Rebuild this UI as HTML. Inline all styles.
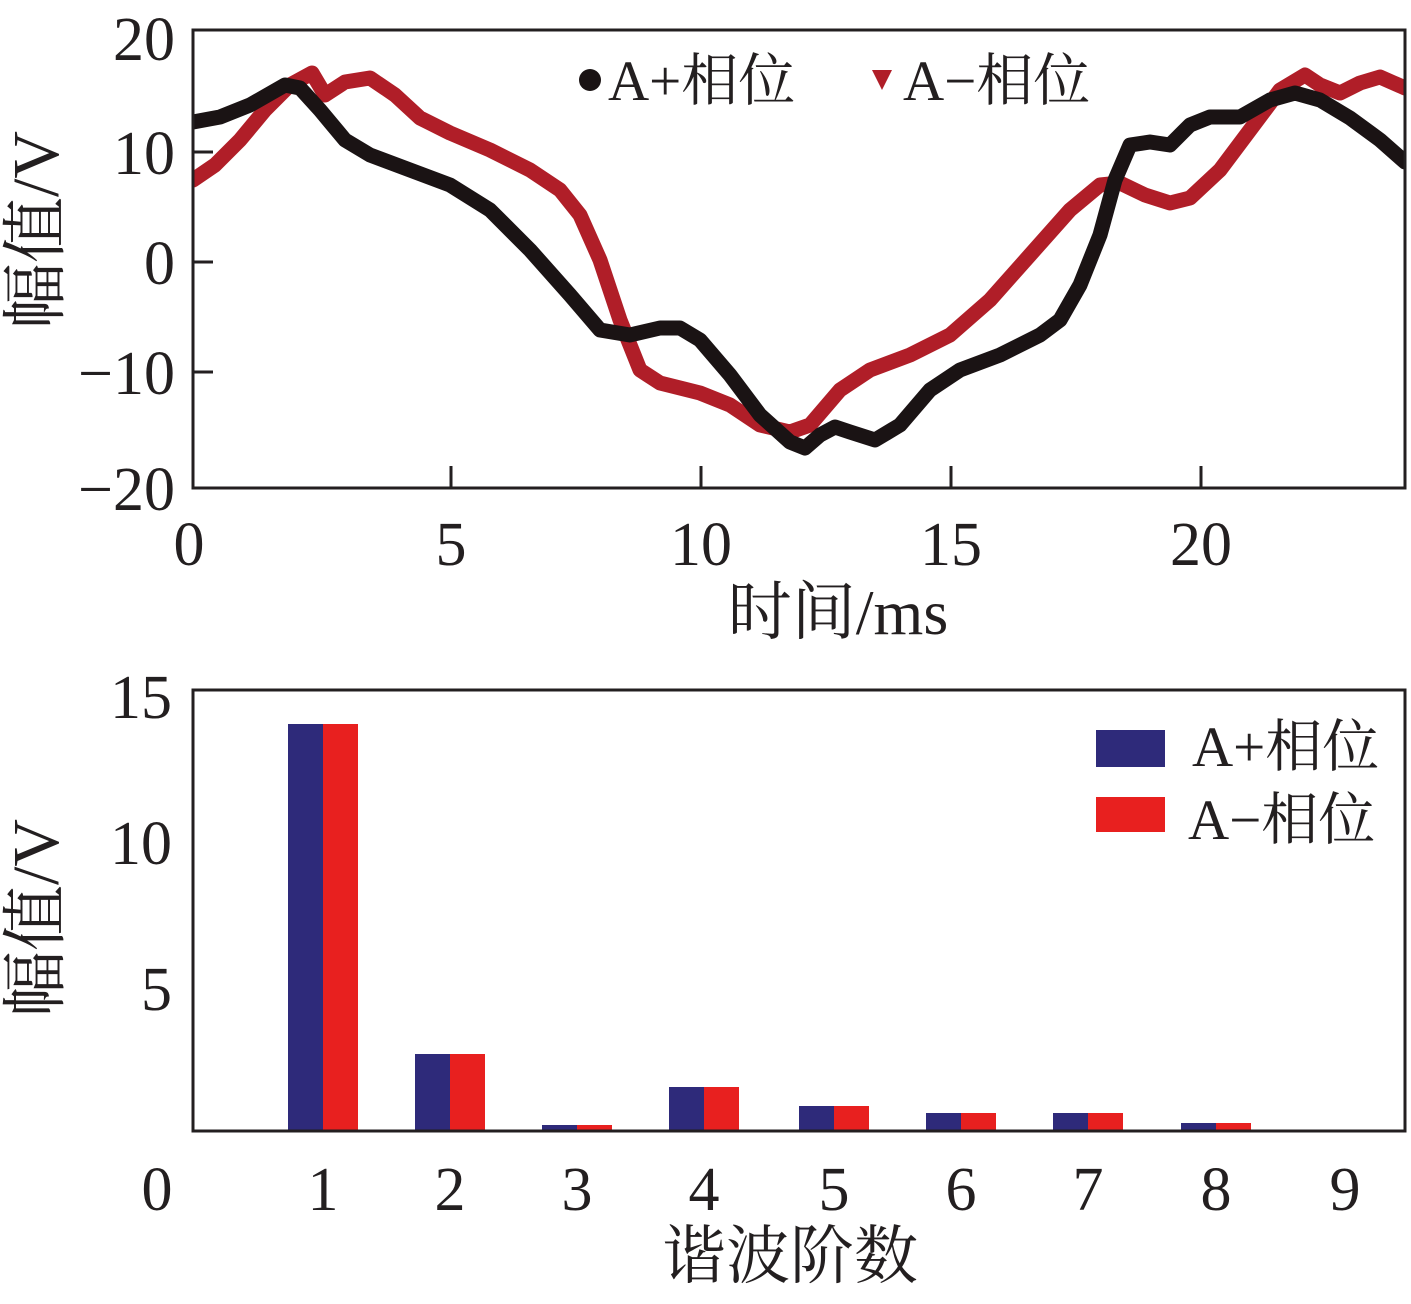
<!DOCTYPE html>
<html><head><meta charset="utf-8"><style>
html,body{margin:0;padding:0;background:#fff;}
svg text{font-family:"Liberation Serif","Noto Serif CJK SC","Noto Sans CJK SC",serif;fill:#231f20;}
</style></head><body>
<svg width="1411" height="1299" viewBox="0 0 1411 1299" xmlns="http://www.w3.org/2000/svg">
<defs><clipPath id="c1"><rect x="193" y="30" width="1212" height="458"/></clipPath></defs>
<g clip-path="url(#c1)" fill="none" stroke-linejoin="round" stroke-linecap="round" stroke-width="15">
<polyline stroke="#b01e28" points="193,180 215,165 240,140 265,110 290,85 312,73 325,95 345,82 370,78 395,95 420,118 450,133 490,150 530,170 560,190 580,215 600,260 620,320 640,370 660,383 700,393 730,405 760,425 790,432 810,425 840,390 870,370 910,355 950,335 990,300 1030,255 1070,210 1100,185 1120,183 1145,195 1170,203 1190,198 1220,170 1250,130 1280,90 1305,75 1320,85 1340,93 1360,83 1380,77 1405,88"/>
<polyline stroke="#1a1314" points="193,122 220,117 250,105 285,85 300,88 320,110 345,140 370,155 410,170 450,185 490,210 530,250 570,295 600,330 630,335 660,328 680,328 700,340 730,375 760,415 790,442 805,448 820,435 835,427 850,432 875,440 900,425 930,390 960,370 1000,355 1040,335 1060,320 1080,285 1100,235 1115,180 1130,145 1150,142 1170,145 1190,125 1210,117 1240,117 1270,100 1295,93 1320,100 1350,118 1380,140 1405,162"/>
</g>
<rect x="193" y="30" width="1212" height="458" fill="none" stroke="#231f20" stroke-width="3"/>
<g stroke="#231f20" stroke-width="3">
<line x1="193" y1="152" x2="213" y2="152"/><line x1="193" y1="262" x2="213" y2="262"/><line x1="193" y1="372" x2="213" y2="372"/>
<line x1="451" y1="488" x2="451" y2="466"/><line x1="701" y1="488" x2="701" y2="466"/><line x1="951" y1="488" x2="951" y2="466"/><line x1="1201" y1="488" x2="1201" y2="466"/>
</g>
<g font-size="62" text-anchor="end">
<text x="175" y="60">20</text><text x="175" y="174">10</text><text x="175" y="284">0</text><text x="175" y="394">−10</text><text x="175" y="510">−20</text>
</g>
<g font-size="62" text-anchor="middle">
<text x="189" y="565">0</text><text x="451" y="565">5</text><text x="701" y="565">10</text><text x="951" y="565">15</text><text x="1201" y="565">20</text>
<text x="838" y="634" font-size="64">时间/ms</text>
</g>
<text font-size="66" text-anchor="middle" transform="translate(58,230) rotate(-90)">幅值/V</text>
<circle cx="590" cy="80" r="11" fill="#1a1314"/>
<text x="608" y="100" font-size="57">A+相位</text>
<polygon points="872,70 892,70 882,90" fill="#b01e28"/>
<text x="903" y="100" font-size="57">A−相位</text>

<g fill="#2e2a7a">
<rect x="288" y="724" width="35" height="407"/><rect x="415" y="1054" width="35" height="77"/><rect x="542" y="1125" width="35" height="6"/><rect x="669" y="1087" width="35" height="44"/><rect x="799" y="1106" width="35" height="25"/><rect x="926" y="1113" width="35" height="18"/><rect x="1053" y="1113" width="35" height="18"/><rect x="1181" y="1123" width="35" height="8"/>
</g>
<g fill="#e8201f">
<rect x="323" y="724" width="35" height="407"/><rect x="450" y="1054" width="35" height="77"/><rect x="577" y="1125" width="35" height="6"/><rect x="704" y="1087" width="35" height="44"/><rect x="834" y="1106" width="35" height="25"/><rect x="961" y="1113" width="35" height="18"/><rect x="1088" y="1113" width="35" height="18"/><rect x="1216" y="1123" width="35" height="8"/>
</g>
<rect x="193" y="690" width="1212" height="441" fill="none" stroke="#231f20" stroke-width="3"/>
<g font-size="62" text-anchor="end">
<text x="172" y="718">15</text><text x="172" y="864">10</text><text x="172" y="1010">5</text>
</g>
<g font-size="62" text-anchor="middle">
<text x="157" y="1210">0</text><text x="323" y="1210">1</text><text x="450" y="1210">2</text><text x="577" y="1210">3</text><text x="704" y="1210">4</text><text x="834" y="1210">5</text><text x="961" y="1210">6</text><text x="1088" y="1210">7</text><text x="1216" y="1210">8</text><text x="1345" y="1210">9</text>
<text x="790" y="1278" font-size="64">谐波阶数</text>
</g>
<text font-size="66" text-anchor="middle" transform="translate(58,918) rotate(-90)">幅值/V</text>
<rect x="1096" y="730" width="69" height="37" fill="#2e2a7a"/>
<text x="1192" y="766" font-size="57">A+相位</text>
<rect x="1096" y="797" width="69" height="35" fill="#e8201f"/>
<text x="1188" y="839" font-size="57">A−相位</text>
</svg>
</body></html>
